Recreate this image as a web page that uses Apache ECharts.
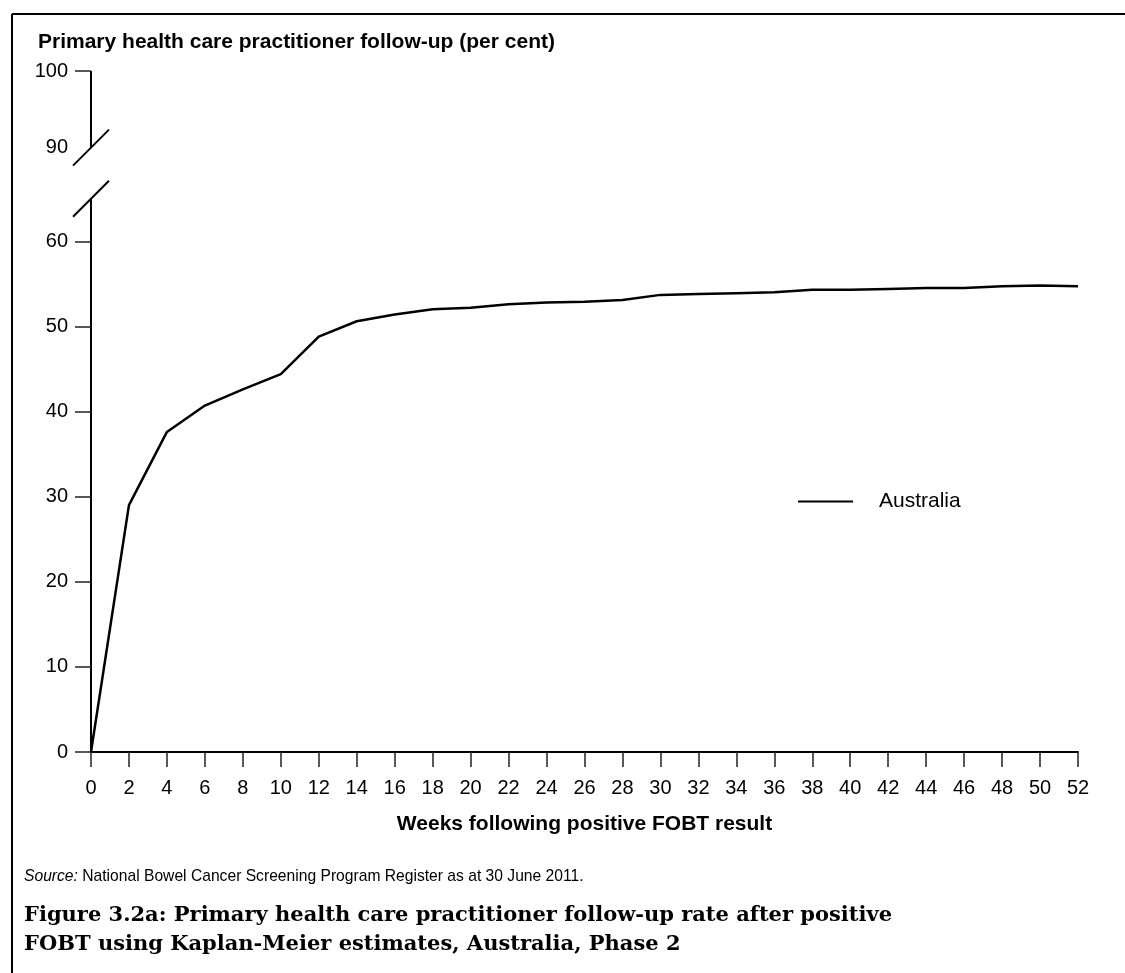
<!DOCTYPE html>
<html>
<head>
<meta charset="utf-8">
<style>
  html, body { margin: 0; padding: 0; background: #fff; }
  #chart { width: 1125px; height: 973px; }
</style>
<script src="https://cdn.jsdelivr.net/npm/echarts@6/dist/echarts.min.js"></script>
</head>
<body>
<div id="chart"></div>
<script>
// weeks after the positive result, and follow-up rate (per cent)
const weeks = [0, 2, 4, 6, 8, 10, 12, 14, 16, 18, 20, 22, 24, 26, 28, 30, 32, 34, 36, 38, 40, 42, 44, 46, 48, 50, 52]
const rate = [0, 29.0, 37.6, 40.7, 42.6, 44.4, 48.8, 50.6, 51.4, 52.0, 52.2, 52.6, 52.8, 52.9, 53.1, 53.7, 53.8, 53.9, 54.0, 54.3, 54.3, 54.4, 54.5, 54.5, 54.7, 54.8, 54.7]

// y tick labels, the upper two sit above the axis break
const yTicks = [0, 10, 20, 30, 40, 50, 60, 90, 100]
const yTicksNoMark = [90]

// broken axis: values up to 60 plot as they are, 90-100 are squeezed in above
const toAxis = v => (v <= 60 ? v : 80 - (100 - v) * 0.9)
const breakLow = 65
const breakHigh = toAxis(90)

const font = 'Liberation Sans, Arial, sans-serif'

const chart = echarts.init(document.getElementById('chart'))

chart.setOption({
  animation: false,
  backgroundColor: '#fff',
  textStyle: { fontFamily: font, color: '#000' },
  title: [{
    text: 'Primary health care practitioner follow-up (per cent)',
    left: 38,
    top: 32,
    padding: 0,
    textStyle: { fontFamily: font, fontSize: 21, fontWeight: 'bold', color: '#000' }
  }, {
    text: 'Figure 3.2a: Primary health care practitioner follow-up rate after positive\nFOBT using Kaplan-Meier estimates, Australia, Phase 2',
    left: 24,
    top: 901,
    padding: 0,
    textStyle: {
      fontFamily: 'DejaVu Serif, serif', fontSize: 21, fontWeight: 'bold', color: '#000', lineHeight: 29
    }
  }],
  legend: {
    left: 793,
    top: 486,
    icon: 'rect',
    itemWidth: 55,
    itemHeight: 2,
    textStyle: { fontFamily: font, fontSize: 21, color: '#000', padding: [0, 0, 0, 21] },
    data: ['Australia']
  },
  grid: { left: 91, right: 47, top: 71, bottom: 221 },
  xAxis: {
    type: 'value',
    min: 0,
    max: 52,
    interval: 2,
    name: 'Weeks following positive FOBT result',
    nameLocation: 'middle',
    nameGap: 62,
    nameTextStyle: { fontFamily: font, fontSize: 21, fontWeight: 'bold', color: '#000' },
    axisLine: { lineStyle: { color: '#000', width: 2 } },
    axisTick: { length: 15, lineStyle: { color: '#222', width: 1.5 } },
    axisLabel: { margin: 26, fontSize: 20, color: '#000', fontFamily: font },
    splitLine: { show: false }
  },
  yAxis: {
    type: 'value',
    min: 0,
    max: 80,
    axisLine: { show: false },
    axisTick: {
      show: true,
      length: 16,
      lineStyle: { color: '#222', width: 1.5 },
      customValues: yTicks.filter(v => !yTicksNoMark.includes(v)).map(toAxis)
    },
    axisLabel: {
      margin: 23,
      fontSize: 20,
      color: '#000',
      fontFamily: font,
      customValues: yTicks.map(toAxis),
      formatter: val => {
        const hit = yTicks.find(t => Math.abs(toAxis(t) - val) < 0.01)
        return hit === undefined ? '' : String(hit)
      }
    },
    splitLine: { show: false }
  },
  series: [{
    name: 'Australia',
    type: 'line',
    data: weeks.map((w, i) => [w, rate[i]]),
    showSymbol: false,
    symbol: 'none',
    lineStyle: { color: '#000', width: 2.5 },
    itemStyle: { color: '#000' }
  }]
})

// axis line with the break marks, placed from the axis scale
function drawExtras() {
  const x0 = chart.convertToPixel({ xAxisIndex: 0 }, 0)
  const py = v => chart.convertToPixel({ yAxisIndex: 0 }, v)
  const yZero = py(0)
  const yLow = py(breakLow)
  const yHigh = py(breakHigh)
  const yTop = py(80)
  const s = 18
  const stroke = { stroke: '#000', lineWidth: 2 }
  chart.setOption({
    graphic: [
      { type: 'line', shape: { x1: x0, y1: yZero, x2: x0, y2: yLow }, style: stroke },
      { type: 'line', shape: { x1: x0, y1: yHigh, x2: x0, y2: yTop }, style: stroke },
      { type: 'line', shape: { x1: x0 - s, y1: yLow + s, x2: x0 + s, y2: yLow - s }, style: stroke },
      { type: 'line', shape: { x1: x0 - s, y1: yHigh + s, x2: x0 + s, y2: yHigh - s }, style: stroke },
      // frame round the figure
      { type: 'line', shape: { x1: 12, y1: 14, x2: 12, y2: 973 }, style: { stroke: '#000', lineWidth: 2 } },
      { type: 'line', shape: { x1: 12, y1: 14, x2: 1125, y2: 14 }, style: { stroke: '#000', lineWidth: 2 } },
      // source note, set in a slightly condensed face
      {
        type: 'text',
        x: 24,
        y: 868,
        scaleX: 0.92,
        style: {
          text: '{i|Source:} National Bowel Cancer Screening Program Register as at 30 June 2011.',
          fontFamily: font,
          fontSize: 17,
          fill: '#000',
          verticalAlign: 'top',
          rich: { i: { fontFamily: font, fontSize: 17, fontStyle: 'italic', fill: '#000' } }
        }
      }
    ]
  })
}
drawExtras()
</script>
</body>
</html>
